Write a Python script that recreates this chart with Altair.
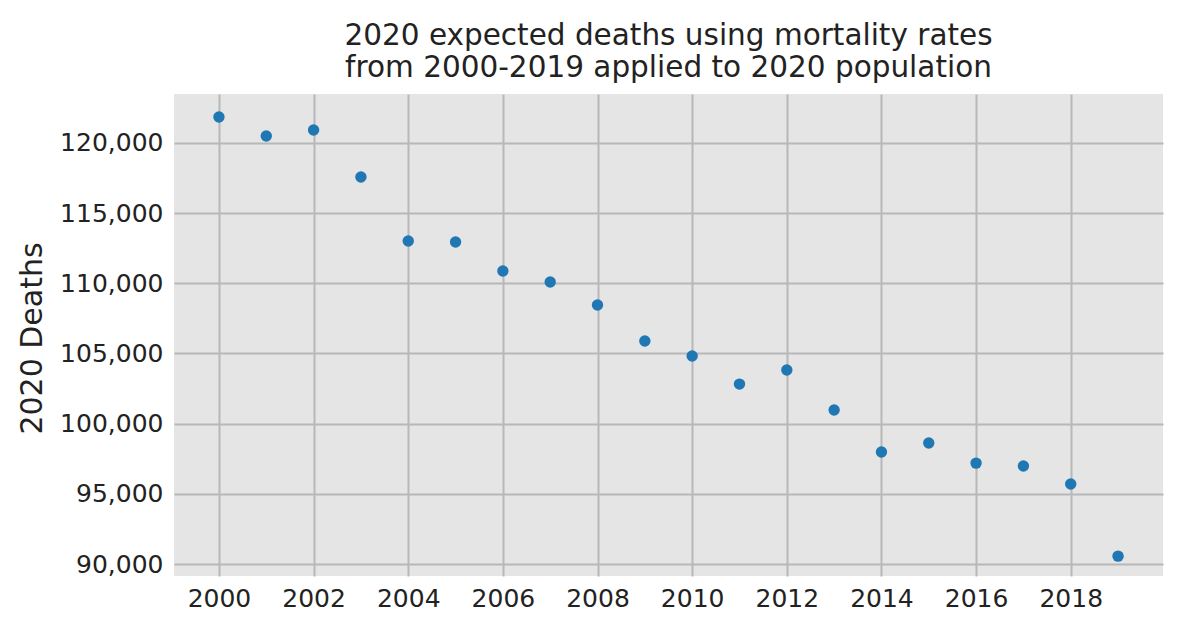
import altair as alt
import pandas as pd

years = list(range(2000, 2020))
deaths = [121850, 120500, 120930, 117580, 113015, 112940, 110880, 110090,
          108450, 105890, 104820, 102820, 103820, 100970, 97980, 98620,
          97190, 96980, 95700, 90560]
x_ticks = list(range(2000, 2020, 2))
y_ticks = list(range(90000, 120001, 5000))

df = pd.DataFrame({"year": years, "deaths": deaths})

FONT = "DejaVu Sans"

chart = alt.Chart(df).mark_circle(size=130, color="#1f77b4", opacity=1).encode(
    x=alt.X("year:Q",
            scale=alt.Scale(domain=[1999.05, 2019.95], nice=False, zero=False),
            axis=alt.Axis(values=x_ticks, format="d", title=None, ticks=False,
                          domain=False, labelPadding=10, labelFontSize=25,
                          labelFont=FONT, labelColor="#222222",
                          gridColor="#b8b8b8", gridWidth=2)),
    y=alt.Y("deaths:Q",
            scale=alt.Scale(domain=[89145, 123490], nice=False, zero=False),
            axis=alt.Axis(values=y_ticks, format=",d", title="2020 Deaths",
                          ticks=False, domain=False, labelPadding=11,
                          labelFontSize=25, labelFont=FONT, labelColor="#222222",
                          titleFontSize=30, titleFont=FONT, titleFontWeight="normal",
                          titleColor="#222222", titleX=-142, titleY=244,
                          titleAlign="center", titleBaseline="middle", titleAngle=270,
                          gridColor="#b8b8b8", gridWidth=2)),
).properties(
    width=989,
    height=482,
    title=alt.TitleParams(
        text=["2020 expected deaths using mortality rates",
              "from 2000-2019 applied to 2020 population"],
        fontSize=29.5, font=FONT, fontWeight="normal", color="#222222",
        lineHeight=32, anchor="middle", offset=11),
    autosize=alt.AutoSizeParams(type="none"),
    padding={"left": 166, "top": 86, "right": 20, "bottom": 50},
).configure_view(fill="#e5e5e5", stroke=None)

chart.save("out.html", embed_options={"renderer": "svg", "actions": False})
